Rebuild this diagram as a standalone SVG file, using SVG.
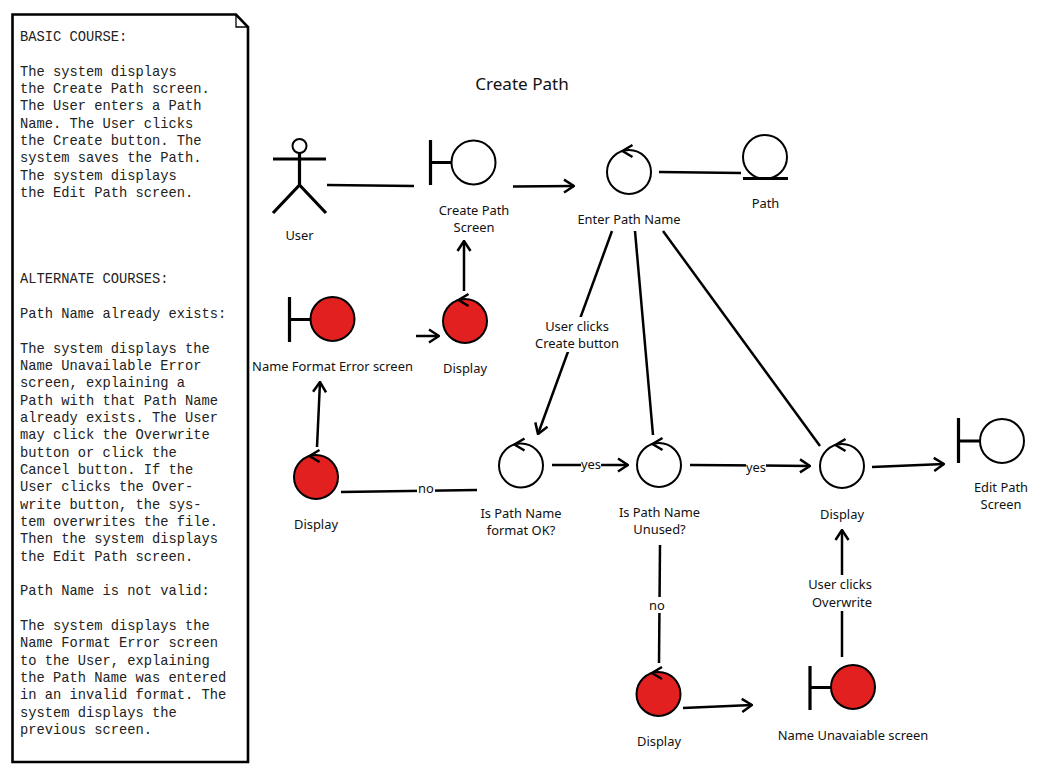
<svg xmlns="http://www.w3.org/2000/svg" xmlns:xlink="http://www.w3.org/1999/xlink" width="1051" height="779" viewBox="0 0 1051 779">
<style>
.bg{fill:#fff}
.c{fill:none;stroke:#000;stroke-width:2.5}
.o{fill:#fff;stroke:#000;stroke-width:2}
.r{fill:#e1201f;stroke:#000;stroke-width:2}
.s{fill:none;stroke:#000;stroke-width:3.2}
.a{marker-end:url(#arr)}
.t{font-family:"Noto Sans","DejaVu Sans",sans-serif;font-size:12.9px;fill:#111;text-anchor:middle}
.m{font-family:"Liberation Mono",monospace;font-size:13.75px;fill:#222}
.lb{fill:#fff}
</style>
<defs>
<marker id="arr" viewBox="0 0 14 16" refX="13" refY="8" markerWidth="14" markerHeight="16" markerUnits="userSpaceOnUse" orient="auto"><path d="M3 1.5L13 8L3 14.5" fill="none" stroke="#000" stroke-width="2.5"/></marker>
<path id="chev" d="M3.500 -27L-6.500 -21L3.500 -15" fill="none" stroke="#000" stroke-width="2.5"/>
</defs>
<rect class="bg" width="1051" height="779"/>
<g id="doc">
<path d="M12.500 14.500H236L248 27V762H12.500Z" fill="#fff" stroke="#000" stroke-width="2.600"/>
<path d="M236 14.500V27H248" fill="none" stroke="#000" stroke-width="1.300"/>
<g class="m">
<text x="20" y="40.500">BASIC COURSE:</text>
<text x="20" y="75.500">The system displays</text>
<text x="20" y="92.500">the Create Path screen.</text>
<text x="20" y="110">The User enters a Path</text>
<text x="20" y="127.500">Name. The User clicks</text>
<text x="20" y="144.500">the Create button. The</text>
<text x="20" y="162">system saves the Path.</text>
<text x="20" y="179.500">The system displays</text>
<text x="20" y="196.500">the Edit Path screen.</text>
<text x="20" y="282.500">ALTERNATE COURSES:</text>
<text x="20" y="317.500">Path Name already exists:</text>
<text x="20" y="352.500">The system displays the</text>
<text x="20" y="370">Name Unavailable Error</text>
<text x="20" y="387">screen, explaining a</text>
<text x="20" y="404.500">Path with that Path Name</text>
<text x="20" y="421.500">already exists. The User</text>
<text x="20" y="439">may click the Overwrite</text>
<text x="20" y="456.500">button or click the</text>
<text x="20" y="473.500">Cancel button. If the</text>
<text x="20" y="491">User clicks the Over-</text>
<text x="20" y="508.500">write button, the sys-</text>
<text x="20" y="525.500">tem overwrites the file.</text>
<text x="20" y="543">Then the system displays</text>
<text x="20" y="560.500">the Edit Path screen.</text>
<text x="20" y="595">Path Name is not valid:</text>
<text x="20" y="630">The system displays the</text>
<text x="20" y="647">Name Format Error screen</text>
<text x="20" y="664.500">to the User, explaining</text>
<text x="20" y="681.500">the Path Name was entered</text>
<text x="20" y="699">in an invalid format. The</text>
<text x="20" y="716.500">system displays the</text>
<text x="20" y="733.500">previous screen.</text>
</g>
</g>
<text id="title" x="522" y="89.500" class="t" style="font-size:17.100px">Create Path</text>
<g id="connectors">
<path class="c" d="M327 185L414 186"/>
<path class="c a" d="M513 186.500L574 186"/>
<path class="c" d="M659 172L741 173"/>
<path class="c a" d="M464 291V241"/>
<path class="c a" d="M416 336L439 336"/>
<path class="c a" d="M317 447L320 382"/>
<path class="c" d="M341 492L477 490"/>
<path class="c a" d="M552 465L628 465"/>
<path class="c a" d="M690 465L810 466"/>
<path class="c a" d="M872 467L944 464"/>
<path class="c a" d="M612 231L538 434"/>
<path class="c" d="M635 231L653 435"/>
<path class="c" d="M663 231L820 446"/>
<path class="c" d="M660 545L659 663"/>
<path class="c a" d="M683 708L752 705"/>
<path class="c a" d="M842 657V530"/>
<g id="connector-labels">
<rect class="lb" x="417" y="480" width="18" height="16"/><text class="t" x="426" y="493">no</text>
<rect class="lb" x="581" y="457" width="20" height="16"/><text class="t" x="591" y="469">yes</text>
<rect class="lb" x="746" y="458" width="20" height="16"/><text class="t" x="756" y="472">yes</text>
<rect class="lb" x="648" y="597" width="18" height="16"/><text class="t" x="657" y="610">no</text>
<rect class="lb" x="540" y="317" width="74" height="35"/><text class="t" x="577" y="331">User clicks</text><text class="t" x="577" y="348">Create button</text>
<rect class="lb" x="806" y="575" width="72" height="36"/><text class="t" x="840" y="589">User clicks</text><text class="t" x="842" y="607">Overwrite</text>
</g>
</g>
<g id="user"><circle class="o" cx="299.500" cy="146" r="7"/><path class="s" d="M299.500 153V185M273 159H326M273 213L299.500 185L326 213"/><text class="t" x="299.500" y="240">User</text></g>
<g id="create-path-screen"><path class="s" d="M430.500 140V185M430.500 162.500H452"/><circle class="o" cx="473.500" cy="162.500" r="22"/><text class="t" x="474" y="215">Create Path</text><text class="t" x="474" y="232">Screen</text></g>
<g id="enter-path-name"><circle class="o" cx="629" cy="172" r="22"/><use xlink:href="#chev" href="#chev" x="629" y="172"/><text class="t" x="629" y="224">Enter Path Name</text></g>
<g id="path"><circle class="o" cx="765" cy="157" r="22"/><path class="s" d="M743 178.500H788"/><text class="t" x="765.500" y="208">Path</text></g>
<g id="name-format-error-screen"><path class="s" d="M289.500 297V342M289.500 319.500H311"/><circle class="r" cx="332.500" cy="319" r="22"/><text class="t" x="332.500" y="371">Name Format Error screen</text></g>
<g id="display-1"><circle class="r" cx="465" cy="321" r="22"/><use xlink:href="#chev" href="#chev" x="465" y="321"/><text class="t" x="465" y="373">Display</text></g>
<g id="display-2"><circle class="r" cx="316" cy="477" r="22"/><use xlink:href="#chev" href="#chev" x="316" y="477"/><text class="t" x="316" y="529">Display</text></g>
<g id="is-format-ok"><circle class="o" cx="521" cy="465.500" r="22"/><use xlink:href="#chev" href="#chev" x="521" y="465.500"/><text class="t" x="521" y="518">Is Path Name</text><text class="t" x="521" y="535">format OK?</text></g>
<g id="is-unused"><circle class="o" cx="659" cy="465" r="22"/><use xlink:href="#chev" href="#chev" x="659" y="465"/><text class="t" x="659.500" y="517">Is Path Name</text><text class="t" x="659.500" y="534">Unused?</text></g>
<g id="display-3"><circle class="o" cx="842" cy="466" r="22"/><use xlink:href="#chev" href="#chev" x="842" y="466"/><text class="t" x="842" y="519">Display</text></g>
<g id="edit-path-screen"><path class="s" d="M958.500 418V463M958.500 441H980"/><circle class="o" cx="1002" cy="441" r="22"/><text class="t" x="1001" y="492">Edit Path</text><text class="t" x="1001" y="509">Screen</text></g>
<g id="display-4"><circle class="r" cx="658.500" cy="694" r="22"/><use xlink:href="#chev" href="#chev" x="658.500" y="694"/><text class="t" x="659" y="746">Display</text></g>
<g id="name-unavailable-screen"><path class="s" d="M810 666V710M810 687.500H832"/><circle class="r" cx="853" cy="687" r="22"/><text class="t" x="853" y="740">Name Unavaiable screen</text></g>
</svg>
